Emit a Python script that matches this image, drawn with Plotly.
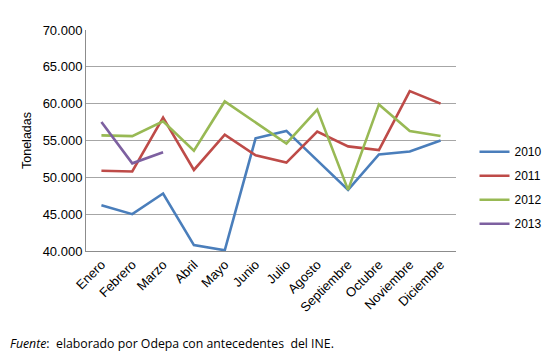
import plotly.graph_objects as go

months = ["Enero", "Febrero", "Marzo", "Abril", "Mayo", "Junio", "Julio",
          "Agosto", "Septiembre", "Octubre", "Noviembre", "Diciembre"]
s2010 = [46200, 45000, 47800, 40800, 40100, 55300, 56300, 52300, 48300, 53100, 53500, 55000]
s2011 = [50900, 50800, 58100, 51000, 55800, 53000, 52000, 56200, 54200, 53700, 61700, 60000]
s2012 = [55700, 55600, 57600, 53600, 60300, 57500, 54600, 59200, 48300, 59900, 56300, 55600]
s2013 = [57500, 51900, 53400]
ytick_vals = [40000, 45000, 50000, 55000, 60000, 65000, 70000]
ytick_text = ["40.000", "45.000", "50.000", "55.000", "60.000", "65.000", "70.000"]

series = [("2010", s2010, "#4A7EBB"), ("2011", s2011, "#BE4B48"),
          ("2012", s2012, "#98B954"), ("2013", s2013, "#7D60A0")]

fig = go.Figure()
for name, vals, col in series:
    fig.add_trace(go.Scatter(x=months[:len(vals)], y=vals, mode="lines", name=name,
                             legendgroup=name,
                             line=dict(color=col, width=2.6)))

# page body has ~8px default margin; figure offset accordingly
fig.update_layout(
    width=542, height=349,
    margin=dict(l=78, r=94, t=22, b=106, autoexpand=False),
    paper_bgcolor="white", plot_bgcolor="white",
    font=dict(family="Liberation Sans", color="#000000"),
    showlegend=True,
    legend=dict(x=1.05, y=0.515, xanchor="left", yanchor="top",
                font=dict(family="Liberation Sans", size=12), itemwidth=30, tracegroupgap=5,
                bgcolor="rgba(0,0,0,0)"),
    xaxis=dict(type="category", categoryorder="array", categoryarray=months,
               tickangle=-45, tickfont=dict(family="Liberation Sans", size=13),
               showgrid=False, automargin=False,
               showline=True, linecolor="#8c8c8c", linewidth=1,
               range=[-0.5, 11.5], ticks=""),
    yaxis=dict(range=[40000, 70000], tickvals=ytick_vals, ticktext=ytick_text,
               tickfont=dict(family="Liberation Sans", size=13), showgrid=True,
               gridcolor="#a6a6a6", automargin=False,
               gridwidth=1, showline=True, linecolor="#8c8c8c", linewidth=1,
               zeroline=False, ticks="",
               title=dict(text="Toneladas", font=dict(family="Liberation Sans", size=12.5),
                          standoff=8)),
)
fig.add_annotation(xref="paper", yref="paper", x=-78/370, y=-92/221,
                   xanchor="left", yanchor="middle", showarrow=False,
                   text="<i>Fuente</i>:  elaborado por Odepa con antecedentes  del INE.",
                   font=dict(family="Open Sans", size=12.3, color="#000000"))
fig.write_html("out.html")
